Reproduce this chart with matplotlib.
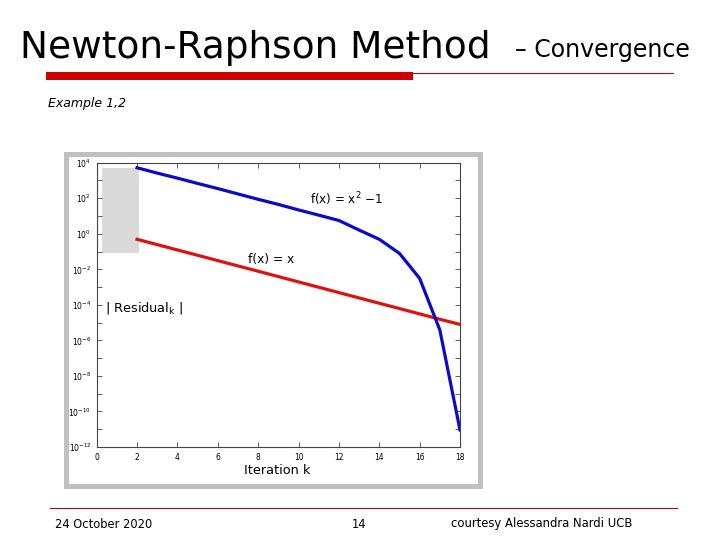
import matplotlib
matplotlib.use('Agg')
import matplotlib.pyplot as plt
from matplotlib.patches import Rectangle
from matplotlib.lines import Line2D

plt.rcParams['font.family'] = ['DejaVu Sans']
plt.rcParams['mathtext.default'] = 'regular'

# ---- data ----
iterations = [2, 3, 4, 5, 6, 7, 8, 9, 10, 11, 12, 13, 14, 15, 16, 17, 18]
resid_quadratic = [5.2e3, 2.6e3, 1.35e3, 6.8e2, 3.5e2, 1.74e2, 87, 45, 22, 11.2,
                   5.6, 1.62, 0.49, 0.079, 3.1e-3, 3.9e-6, 9.1e-12]
resid_linear = [0.49, 0.245, 0.123, 0.0617, 0.0309, 0.0155, 7.8e-3, 3.9e-3,
                1.95e-3, 9.8e-4, 4.9e-4, 2.45e-4, 1.23e-4, 6.2e-5, 3.1e-5,
                1.55e-5, 7.9e-6]
x_ticks = [0, 2, 4, 6, 8, 10, 12, 14, 16, 18]
y_major = [1e4, 1e2, 1e0, 1e-2, 1e-4, 1e-6, 1e-8, 1e-10, 1e-12]
y_major_labels = ['$10^{4}$', '$10^{2}$', '$10^{0}$', '$10^{-2}$', '$10^{-4}$',
                  '$10^{-6}$', '$10^{-8}$', '$10^{-10}$', '$10^{-12}$']
y_minor = [1e3, 1e1, 1e-1, 1e-3, 1e-5, 1e-7, 1e-9, 1e-11]

W, H = 720, 540
fig = plt.figure(figsize=(7.2, 5.4), dpi=100)
fig.patch.set_facecolor('white')


def P(x, y):
    return (x / W, 1 - y / H)


# ---- slide decoration ----
fig.text(*P(20, 58), 'Newton-Raphson Method', fontsize=27, ha='left',
         va='baseline', color='black')
fig.text(*P(515, 57), '– Convergence', fontsize=17, ha='left',
         va='baseline', color='black')
fig.add_artist(Rectangle(P(46, 80), (413 - 46) / W, 8 / H,
                         transform=fig.transFigure, facecolor='#cc0000',
                         edgecolor='none'))
fig.add_artist(Line2D([413 / W, 673 / W], [1 - 72.5 / H, 1 - 72.5 / H],
                      transform=fig.transFigure, color='#a01010', lw=0.8))
fig.text(*P(48, 103), 'Example 1,2', fontsize=9, style='italic',
         ha='left', va='center')

# footer
fig.add_artist(Line2D([50 / W, 677 / W], [1 - 508 / H, 1 - 508 / H],
                      transform=fig.transFigure, color='#a01010', lw=0.8))
fig.text(*P(55, 524), '24 October 2020', fontsize=8.3, ha='left', va='center')
fig.text(*P(359, 524), '14', fontsize=8.3, ha='center', va='center')
fig.text(*P(451, 524), 'courtesy Alessandra Nardi UCB', fontsize=8.4,
         ha='left', va='center')

# grey picture frame (behind the axes)
frame = Rectangle(P(65.8, 486), (480.3 - 65.8) / W, (486 - 154) / H,
                  transform=fig.transFigure, facecolor='white',
                  edgecolor='#c0c0c0', lw=3.6, zorder=-10)
fig.add_artist(frame)

# ---- plot ----
ax = fig.add_axes([96.7 / W, 1 - 447 / H, (460 - 96.7) / W, (447 - 162.7) / H])
ax.set_zorder(5)
ax.set_yscale('log')
ax.set_xlim(0, 18)
ax.set_ylim(1e-12, 1e4)

ax.add_patch(Rectangle((0.28, 10 ** -1.06), 2.1 - 0.28, 10 ** 3.68 - 10 ** -1.06,
                       facecolor='#d9d9d9', edgecolor='none', zorder=1))

ax.plot(iterations, resid_quadratic, color='#0a0ac8', lw=2.3, zorder=3)
ax.plot(iterations, resid_linear, color='#e01010', lw=2.3, zorder=2)

ax.set_xticks(x_ticks)
ax.set_xticklabels([str(t) for t in x_ticks])
ax.set_yticks(y_major)
ax.set_yticklabels(y_major_labels)
ax.set_yticks(y_minor, minor=True)
ax.yaxis.set_minor_formatter(plt.NullFormatter())
ax.set_xticks([], minor=True)

ax.tick_params(which='both', direction='in', top=True, right=True,
               length=3.5, width=0.6, color='#444444', labelsize=5.5, pad=4)
for s in ax.spines.values():
    s.set_color('#444444')
    s.set_linewidth(0.8)

ax.text(10.58, 10 ** 1.96, 'f(x) = x$^2$ −1', fontsize=8.6, ha='left',
        va='center')
ax.text(7.5, 10 ** -1.42, 'f(x) = x', fontsize=8.8, ha='left', va='center')
ax.text(0.41, 10 ** -4.18, '| Residual$_k$ |', fontsize=9.3, ha='left',
        va='center')

fig.text(*P(277, 471), 'Iteration k', fontsize=9.3, ha='center', va='center',
         zorder=6)

fig.savefig('out.png', dpi=100, facecolor='white')
